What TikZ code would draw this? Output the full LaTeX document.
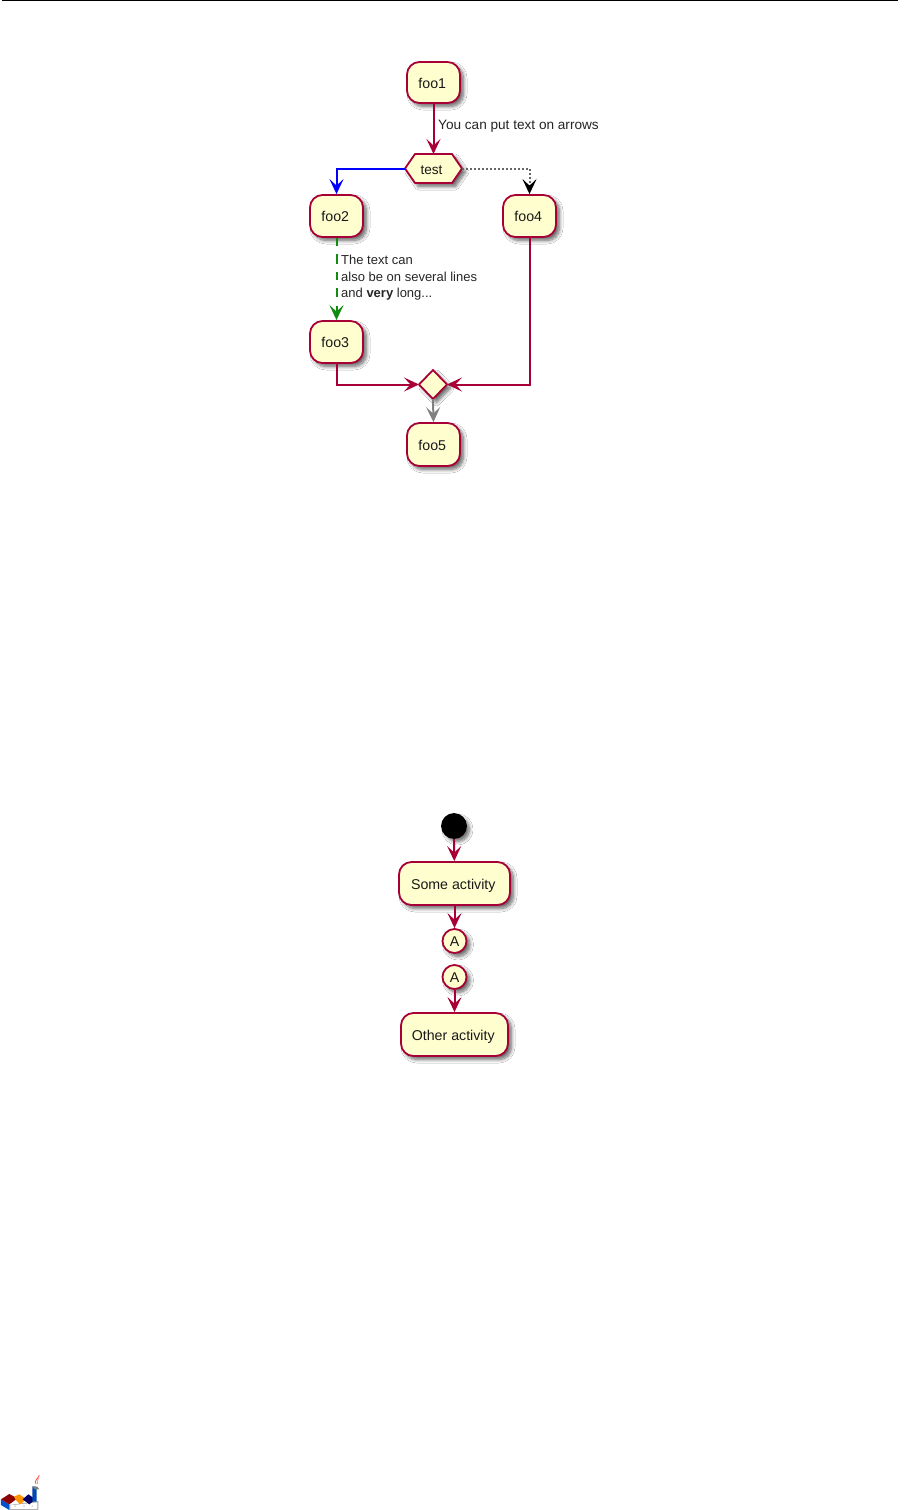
\documentclass[tikz,border=0pt]{standalone}
\usepackage{fontspec}
\setmainfont{Liberation Sans}
\usetikzlibrary{arrows.meta,shapes.geometric,shadows.blur,calc}
\definecolor{pcrim}{HTML}{A80036}
\definecolor{pfill}{HTML}{FEFECE}
\definecolor{pgreen}{HTML}{118C11}
\tikzset{
  x=1pt,y=-1pt,
  shad/.style={blur shadow={shadow xshift=3.5pt,shadow yshift=-3.5pt,shadow blur radius=3.5pt,shadow opacity=60,shadow blur steps=8}},
  activity/.style={shape=rectangle,rounded corners=12.5pt,draw=pcrim,fill=pfill,line width=1.8pt,shad,inner sep=0pt,font=\fontsize{14.2}{16}\selectfont,text=black!90,text height=11pt,text depth=0pt,execute at begin node=\kern-2.5pt},
  conn/.style={draw=pcrim,line width=2pt,-{Stealth[length=15pt,width=14pt,inset=6.5pt]}},
  dots/.style={draw=black!60,line width=2pt,dash pattern=on 2pt off 2pt},
  lab/.style={anchor=west,inner sep=0pt,font=\fontsize{13.0}{15}\selectfont,text=black!85},
  circ/.style={shape=circle,draw=pcrim,fill=pfill,line width=1.8pt,shad,inner sep=0pt,minimum size=24pt,font=\fontsize{14.2}{16}\selectfont,text=black!90,text height=11pt,text depth=0pt},
}
\begin{document}
\begin{tikzpicture}
\fill[white] (0,0) rectangle (908,1510);
\useasboundingbox (0,0) rectangle (908,1510);
\draw[line width=1.5pt,black] (2,0.7) -- (898,0.7);

% first diagram
\node[activity,minimum width=53pt,minimum height=41pt] (foo1) at (433.5,82.5) {foo1};
\path[draw=pcrim,fill=pfill,line width=1.8pt,shad,line join=round] (405,168.5) -- (415,154) -- (452,154) -- (462,168.5) -- (452,183) -- (415,183) -- cycle;
\node[inner sep=0pt,font=\fontsize{13.6}{15}\selectfont,text=black!90] (test) at (431.5,170.5) {test};
\coordinate (testW) at (405,168.5);
\coordinate (testE) at (462,168.5);
\coordinate (testN) at (433.5,154);
\node[activity,minimum width=53pt,minimum height=42pt] (foo2) at (336.5,216) {foo2};
\node[activity,minimum width=53pt,minimum height=42pt] (foo4) at (529.5,216) {foo4};
\node[activity,minimum width=53pt,minimum height=42pt] (foo3) at (336.5,342) {foo3};
\path[draw=pcrim,fill=pfill,line width=1.8pt,shad,line join=round] (419,384.5) -- (433,370) -- (447,384.5) -- (433,399) -- cycle;
\coordinate (mergeW) at (419,384.5);
\coordinate (mergeE) at (447,384.5);
\coordinate (mergeS) at (433,399);
\node[activity,minimum width=53pt,minimum height=43pt] (foo5) at (433.5,444.5) {foo5};

\draw[conn] (foo1.south) -- (testN);
\node[lab,font=\fontsize{13.6}{15}\selectfont] (l1) at (438,126.5) {You can put text on arrows};
\draw[conn,draw=blue] (testW) -| (foo2.north);
\draw[dots] (testE) -| ($(foo4.north)+(0,-8)$);
\draw[dots,-{Stealth[length=15pt,width=14pt,inset=6.5pt,black]}] ($(foo4.north)+(0,-8)$) -- (foo4.north);
\draw[conn,draw=pgreen,dash pattern=on 8pt off 8pt on 10pt off 8pt on 8pt off 8pt on 9pt off 9pt on 30pt] (foo2.south) -- (foo3.north);
\node[lab] (l2) at (341,259.5) {The text can};
\node[lab] (l3) at (341,276.5) {also be on several lines};
\node[lab] (l4) at (341,294) {and \textbf{very} long...};
\draw[conn] (foo3.south) |- (mergeW);
\draw[conn] (foo4.south) |- (mergeE);
\draw[conn,draw=gray] (mergeS) -- (foo5.north);

% second diagram
\node[circ,fill=black,draw=black] (start) at (454,826) {};
\node[activity,minimum width=111pt,minimum height=43pt] (some) at (454.5,883.5) {Some activity};
\node[circ] (a1) at (454.5,941) {A};
\node[circ] (a2) at (454.5,977) {A};
\node[activity,minimum width=107pt,minimum height=43pt] (other) at (454.5,1034.5) {Other activity};
\draw[conn] (start) -- (some);
\draw[conn] (some) -- (a1);
\draw[conn] (a2) -- (other);

% logo
\begin{scope}[shift={(0,1460)},x=0.3333pt,y=-0.3333pt]
\fill[gray!70] (28,135) -- (115,123) -- (115,150) -- (28,150) -- cycle;
\fill[white] (31,136) -- (112,127) -- (112,147) -- (31,147) -- cycle;
\fill[white!60!gray] (45,138) circle (2.5) (72,138) circle (2.5) (97,138) circle (2.5);
\fill[blue!60!cyan!80!black] (3,118) -- (28,133) -- (28,150) -- (3,135) -- cycle;
\fill[red!55!black] (3,118) -- (28,102) -- (52,115) -- (28,133) -- cycle;
\fill[orange!85!yellow] (42,110) -- (58,103) -- (80,118) -- (60,133) -- (48,120) -- cycle;
\fill[blue!40!black] (68,118) -- (85,103) -- (107,118) -- (88,133) -- cycle;
\fill[blue!60!cyan!70!black] (97,80) -- (110,84) -- (110,125) -- (97,125) -- cycle;
\fill[gray] (97,78) -- (112,80) -- (118,88) -- (103,88) -- cycle;
\draw[red!70,line width=0.8pt] (108,72) .. controls (102,62) and (112,58) .. (118,46);
\draw[red!40,line width=0.8pt] (112,72) .. controls (108,64) and (116,60) .. (116,54);
\end{scope}
\end{tikzpicture}
\end{document}
